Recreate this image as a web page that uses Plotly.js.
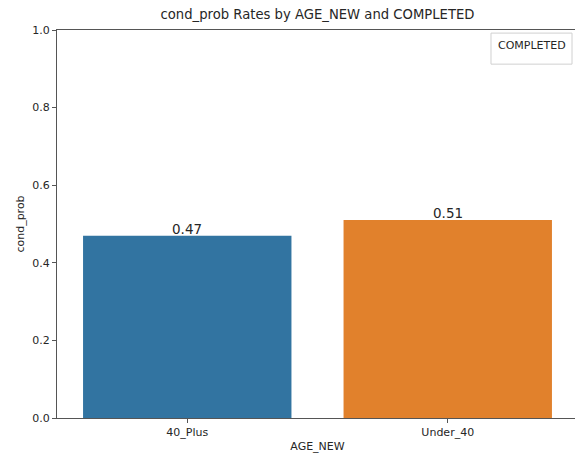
<!DOCTYPE html>
<html>
<head>
<meta charset="utf-8">
<script src="https://cdn.plot.ly/plotly-3.0.1.min.js"></script>
<style>
html, body { margin: 0; padding: 0; width: 575px; height: 454px; overflow: hidden; background: #fff; }
#chart { width: 580px; height: 454px; }
</style>
</head>
<body>
<div id="chart"></div>
<script>
const categories = ["40_Plus", "Under_40"];
const condProb = [0.47, 0.51];
const barColors = ["#3274a1", "#e1812c"];
const yTicks = [0.0, 0.2, 0.4, 0.6, 0.8, 1.0];
const yTickLabels = ["0.0", "0.2", "0.4", "0.6", "0.8", "1.0"];

const font = "DejaVu Sans, sans-serif";
const axisColor = "#555";
const textColor = "#262626";

const trace = {
  type: "bar",
  x: categories,
  y: condProb,
  width: 0.8,
  marker: { color: barColors, line: { width: 0 } },
  hoverinfo: "x+y"
};

const valueLabels = categories.map((c, i) => ({
  x: c, y: condProb[i], xref: "x", yref: "y",
  xanchor: "center", yanchor: "bottom", yshift: -3,
  text: condProb[i].toFixed(2), showarrow: false,
  font: { family: font, size: 13.5, color: textColor }
}));

const layout = {
  width: 580,
  height: 454,
  margin: { l: 57, r: 2, t: 30, b: 36 },
  paper_bgcolor: "#fff",
  plot_bgcolor: "#fff",
  showlegend: false,
  title: {
    text: "cond_prob Rates by AGE_NEW and COMPLETED",
    font: { family: font, size: 13.2, color: textColor },
    x: 0.5, xref: "paper", xanchor: "center",
    y: 1, yref: "container", yanchor: "top", pad: { t: 10 }
  },
  xaxis: {
    type: "category",
    range: [-0.5, 1.5],
    showline: true, linecolor: axisColor, linewidth: 1, mirror: true,
    ticks: "outside", ticklen: 4, tickcolor: axisColor,
    tickfont: { family: font, size: 11, color: textColor },
    showgrid: false, zeroline: false,
    title: { text: "AGE_NEW", font: { family: font, size: 11, color: textColor }, standoff: 4 }
  },
  yaxis: {
    range: [0, 1],
    tickvals: yTicks,
    ticktext: yTickLabels,
    showline: true, linecolor: axisColor, linewidth: 1, mirror: true,
    ticks: "outside", ticklen: 4, tickcolor: axisColor,
    tickfont: { family: font, size: 11, color: textColor },
    showgrid: false, zeroline: false,
    title: { text: "cond_prob", font: { family: font, size: 11, color: textColor }, standoff: 5 }
  },
  shapes: [{
    type: "rect", xref: "paper", yref: "paper",
    x0: 0.833, x1: 0.9885, y0: 0.912, y1: 0.992,
    line: { color: "#d0d0d0", width: 1 },
    fillcolor: "rgba(255,255,255,0.8)"
  }],
  annotations: valueLabels.concat([{
    xref: "paper", yref: "paper",
    x: 0.911, y: 0.96,
    xanchor: "center", yanchor: "middle",
    text: "COMPLETED", showarrow: false,
    font: { family: font, size: 11, color: textColor }
  }])
};

Plotly.newPlot("chart", [trace], layout, { displayModeBar: false, staticPlot: true });
</script>
</body>
</html>
